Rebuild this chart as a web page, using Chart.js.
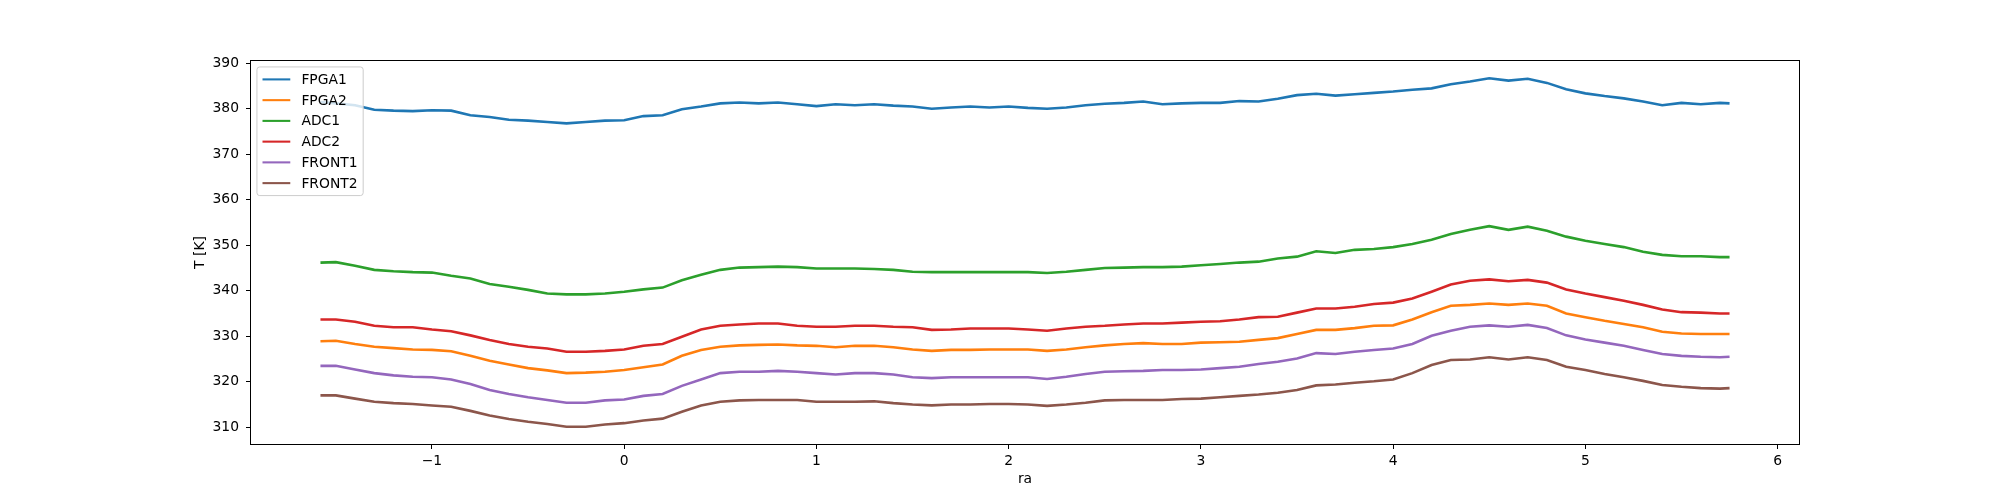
<!DOCTYPE html>
<html>
<head>
<meta charset="utf-8">
<script src="https://cdn.jsdelivr.net/npm/chart.js@4/dist/chart.umd.min.js"></script>
<style>
  html, body { margin: 0; padding: 0; background: #fff; }
  #wrap { width: 2000px; height: 500px; }
</style>
</head>
<body>
<div id="wrap"><canvas id="grafico" width="2000" height="500"></canvas></div>
<script>
// ra (x) sample positions
var ra = [-1.58, -1.5, -1.4, -1.3, -1.2, -1.1, -1.0, -0.9, -0.8, -0.7, -0.6, -0.5, -0.4, -0.3, -0.2,
  -0.1, 0, 0.1, 0.2, 0.3, 0.4, 0.5, 0.6, 0.7, 0.8, 0.9, 1.0, 1.1, 1.2, 1.3,
  1.4, 1.5, 1.6, 1.7, 1.8, 1.9, 2.0, 2.1, 2.2, 2.3, 2.4, 2.5, 2.6, 2.7, 2.8,
  2.9, 3.0, 3.1, 3.2, 3.3, 3.4, 3.5, 3.6, 3.7, 3.8, 3.9, 4.0, 4.1, 4.2, 4.3,
  4.4, 4.5, 4.6, 4.7, 4.8, 4.9, 5.0, 5.1, 5.2, 5.3, 5.4, 5.5, 5.6, 5.7, 5.75];

var fpga1 = [381.5, 381.2, 380.8, 379.8, 379.6, 379.5, 379.7, 379.6, 378.6, 378.2, 377.6, 377.4, 377.1, 376.8, 377.1,
  377.4, 377.5, 378.4, 378.6, 379.9, 380.5, 381.2, 381.4, 381.2, 381.4, 381.0, 380.6, 381.0, 380.8, 381.0,
  380.7, 380.5, 380.0, 380.3, 380.5, 380.3, 380.5, 380.2, 380.0, 380.3, 380.8, 381.1, 381.3, 381.6, 381.0,
  381.2, 381.3, 381.3, 381.7, 381.6, 382.2, 383.0, 383.3, 382.9, 383.2, 383.5, 383.8, 384.2, 384.5, 385.4,
  386.0, 386.7, 386.2, 386.6, 385.7, 384.3, 383.4, 382.8, 382.3, 381.6, 380.8, 381.3, 381.0, 381.3, 381.2];

var fpga2 = [328.9, 329.0, 328.3, 327.7, 327.4, 327.1, 327.0, 326.7, 325.7, 324.6, 323.8, 323.0, 322.5, 321.9, 322.0,
  322.2, 322.6, 323.2, 323.8, 325.7, 327.0, 327.7, 328.0, 328.1, 328.2, 328.0, 327.9, 327.6, 327.9, 327.9,
  327.6, 327.1, 326.8, 327.0, 327.0, 327.1, 327.1, 327.1, 326.8, 327.1, 327.6, 328.0, 328.3, 328.5, 328.3,
  328.3, 328.6, 328.7, 328.8, 329.2, 329.6, 330.5, 331.4, 331.4, 331.8, 332.3, 332.4, 333.7, 335.3, 336.7,
  336.9, 337.2, 336.9, 337.2, 336.7, 335.0, 334.2, 333.4, 332.7, 332.0, 331.0, 330.6, 330.5, 330.5, 330.5];

var adc1 = [346.2, 346.3, 345.5, 344.6, 344.3, 344.1, 344.0, 343.3, 342.7, 341.5, 340.9, 340.2, 339.4, 339.2, 339.2,
  339.4, 339.8, 340.3, 340.7, 342.3, 343.5, 344.6, 345.1, 345.2, 345.3, 345.2, 344.9, 344.9, 344.9, 344.8,
  344.6, 344.2, 344.1, 344.1, 344.1, 344.1, 344.1, 344.1, 343.9, 344.2, 344.6, 345.0, 345.1, 345.2, 345.2,
  345.3, 345.6, 345.9, 346.2, 346.4, 347.1, 347.5, 348.7, 348.3, 349.0, 349.2, 349.6, 350.3, 351.2, 352.5,
  353.4, 354.2, 353.4, 354.1, 353.2, 351.9, 351.0, 350.3, 349.6, 348.6, 347.9, 347.6, 347.6, 347.4, 347.4];

var adc2 = [333.7, 333.7, 333.2, 332.3, 332.0, 332.0, 331.5, 331.1, 330.2, 329.2, 328.3, 327.7, 327.3, 326.6, 326.6,
  326.8, 327.1, 327.9, 328.3, 329.9, 331.5, 332.3, 332.6, 332.8, 332.8, 332.3, 332.1, 332.1, 332.3, 332.3,
  332.1, 332.0, 331.4, 331.5, 331.7, 331.7, 331.7, 331.5, 331.2, 331.7, 332.1, 332.3, 332.6, 332.8, 332.8,
  333.0, 333.2, 333.3, 333.7, 334.2, 334.3, 335.2, 336.1, 336.1, 336.5, 337.1, 337.4, 338.3, 339.8, 341.4,
  342.2, 342.5, 342.1, 342.4, 341.8, 340.3, 339.4, 338.6, 337.8, 336.9, 335.9, 335.3, 335.2, 335.0, 335.0];

var front1 = [323.5, 323.5, 322.7, 321.9, 321.4, 321.1, 321.0, 320.5, 319.5, 318.2, 317.3, 316.6, 316.0, 315.4, 315.4,
  315.9, 316.1, 316.9, 317.3, 319.1, 320.5, 321.9, 322.2, 322.2, 322.4, 322.2, 321.9, 321.6, 321.9, 321.9,
  321.6, 321.0, 320.8, 321.0, 321.0, 321.0, 321.0, 321.0, 320.6, 321.1, 321.7, 322.2, 322.3, 322.4, 322.6,
  322.6, 322.7, 323.0, 323.3, 323.9, 324.4, 325.1, 326.3, 326.1, 326.6, 327.0, 327.3, 328.3, 330.1, 331.2,
  332.1, 332.4, 332.1, 332.5, 331.8, 330.2, 329.3, 328.6, 327.9, 327.0, 326.1, 325.7, 325.5, 325.4, 325.5];

var front2 = [317.0, 317.0, 316.3, 315.6, 315.3, 315.1, 314.8, 314.5, 313.6, 312.6, 311.8, 311.2, 310.7, 310.1, 310.1,
  310.6, 310.9, 311.5, 311.9, 313.4, 314.8, 315.6, 315.9, 316.0, 316.0, 316.0, 315.6, 315.6, 315.6, 315.7,
  315.3, 315.0, 314.8, 315.0, 315.0, 315.1, 315.1, 315.0, 314.7, 315.0, 315.4, 315.9, 316.0, 316.0, 316.0,
  316.2, 316.3, 316.6, 316.9, 317.2, 317.6, 318.2, 319.2, 319.4, 319.8, 320.1, 320.5, 321.9, 323.7, 324.8,
  324.9, 325.4, 324.9, 325.4, 324.8, 323.3, 322.6, 321.7, 321.0, 320.2, 319.3, 318.9, 318.6, 318.5, 318.6];

var nomes = ['FPGA1', 'FPGA2', 'ADC1', 'ADC2', 'FRONT1', 'FRONT2'];
var series = [fpga1, fpga2, adc1, adc2, front1, front2];
var cores = ['#1f77b4', '#ff7f0e', '#2ca02c', '#d62728', '#9467bd', '#8c564b'];

var xTicks = [-1, 0, 1, 2, 3, 4, 5, 6];
var yTicks = [310, 320, 330, 340, 350, 360, 370, 380, 390];

var FONTE = 13.89; // 10pt a 100 dpi
Chart.defaults.font.family = 'DejaVu Sans';
Chart.defaults.font.size = FONTE;
Chart.defaults.color = '#000';

function menos(v) {
  return v < 0 ? '\u2212' + Math.abs(v) : String(v);
}

// caixa dos eixos + legenda estilo matplotlib
var caixaLegenda = {
  id: 'caixaLegenda',
  afterDatasetsDraw: function (chart) {
    var ctx = chart.ctx, a = chart.chartArea;
    ctx.save();
    ctx.strokeStyle = '#000';
    ctx.lineWidth = 1;
    ctx.strokeRect(a.left + 0.5, a.top + 0.5, a.right - a.left - 1, a.bottom - a.top - 1);

    var em = FONTE;
    var x0 = a.left + 0.5 * em, y0 = a.top + 0.5 * em;
    var pad = 0.4 * em, hl = 2.0 * em, htp = 0.8 * em, rowH = 13.8, gap = 0.5 * em;
    ctx.font = em + 'px "DejaVu Sans"';
    var maxW = 0;
    chart.data.datasets.forEach(function (d) { maxW = Math.max(maxW, ctx.measureText(d.label).width); });
    var n = chart.data.datasets.length;
    var w = pad * 2 + hl + htp + maxW;
    var h = pad * 2 + n * rowH + (n - 1) * gap;
    ctx.beginPath();
    ctx.roundRect(x0, y0, w, h, 0.2 * em);
    ctx.fillStyle = 'rgba(255,255,255,0.8)';
    ctx.fill();
    ctx.strokeStyle = '#cccccc';
    ctx.stroke();
    ctx.textBaseline = 'middle';
    ctx.textAlign = 'left';
    chart.data.datasets.forEach(function (d, i) {
      var cy = y0 + pad + rowH / 2 + i * (rowH + gap);
      ctx.beginPath();
      ctx.strokeStyle = d.borderColor;
      ctx.lineWidth = 2.08;
      ctx.moveTo(x0 + pad, cy);
      ctx.lineTo(x0 + pad + hl, cy);
      ctx.stroke();
      ctx.fillStyle = '#000';
      ctx.fillText(d.label, x0 + pad + hl + htp, cy + 1);
    });
    ctx.restore();
  }
};

var ctx = document.getElementById('grafico').getContext('2d');
new Chart(ctx, {
  type: 'line',
  data: {
    datasets: series.map(function (s, i) {
      return {
        label: nomes[i],
        data: s.map(function (v, j) { return { x: ra[j], y: v }; }),
        borderColor: cores[i],
        backgroundColor: cores[i],
        borderWidth: 2.6,
        pointRadius: 0,
        tension: 0,
        fill: false
      };
    })
  },
  options: {
    responsive: false,
    animation: false,
    devicePixelRatio: 1,
    layout: { padding: { left: 190, right: 200, top: 60, bottom: 0 } },
    plugins: { legend: { display: false }, tooltip: { enabled: false } },
    scales: {
      x: {
        type: 'linear',
        min: -1.9465,
        max: 6.1165,
        border: { display: false },
        grid: { drawOnChartArea: false, drawTicks: true, tickLength: 4, tickColor: '#000', tickWidth: 1 },
        ticks: { padding: 4, maxRotation: 0, autoSkip: false, callback: menos },
        title: { display: true, text: 'ra', padding: { top: 0, bottom: 12 } },
        afterBuildTicks: function (s) { s.ticks = xTicks.map(function (v) { return { value: v }; }); },
        afterFit: function (s) { s.height = 55; }
      },
      y: {
        type: 'linear',
        min: 306.1,
        max: 390.73,
        border: { display: false },
        grid: { drawOnChartArea: false, drawTicks: true, tickLength: 4, tickColor: '#000', tickWidth: 1 },
        ticks: { padding: 7, autoSkip: false, callback: menos },
        title: { display: true, text: 'T [K]', padding: { top: 2, bottom: 0 } },
        afterBuildTicks: function (s) { s.ticks = yTicks.map(function (v) { return { value: v }; }); },
        afterFit: function (s) { s.width = 60; }
      }
    }
  },
  plugins: [caixaLegenda]
});
</script>
</body>
</html>
